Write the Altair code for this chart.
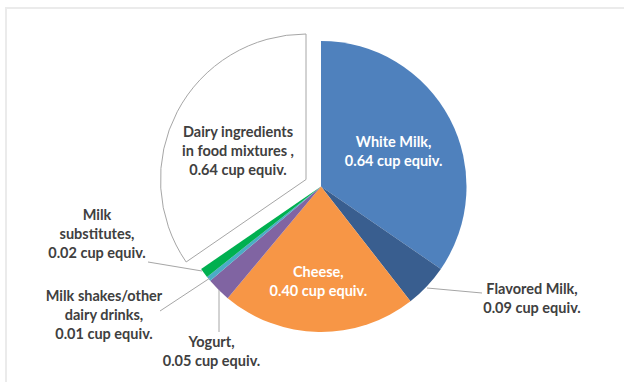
import altair as alt
import pandas as pd

# ---- data ----
categories = ["White Milk", "Flavored Milk", "Cheese", "Yogurt",
              "Milk shakes/other dairy drinks", "Milk substitutes",
              "Dairy ingredients in food mixtures"]
values = [0.64, 0.09, 0.40, 0.05, 0.01, 0.02, 0.64]
colors = ["#4F81BD", "#395E8F", "#F79646", "#8064A2", "#4BACC6", "#00B050", "#FFFFFF"]
white_text = ["White Milk,\n0.64 cup equiv.", "", "", "", "", "", ""]
cheese_text = ["", "", "Cheese,\n0.40 cup equiv.", "", "", "", ""]
dairy_text = ["", "", "", "", "", "", "Dairy ingredients\nin food mixtures ,\n0.64 cup equiv."]

# call-out labels (annotation layout; y = first line)
callout_text = ["Flavored Milk,\n0.09 cup equiv.",
                "Yogurt,\n0.05 cup equiv.",
                "Milk shakes/other\ndairy drinks,\n0.01 cup equiv.",
                "Milk\nsubstitutes,\n0.02 cup equiv."]
callout_x = [532, 211.5, 104, 97]
callout_y = [289.5, 343, 297, 216]
leader_x = [427, 219, 210, 202]
leader_y = [288, 290, 278, 271]
leader_x2 = [482, 219, 160, 148]
leader_y2 = [293, 332, 311, 262]

FONT = "Lato"
FS = 14.5
LH = 19
CX, CY, R = 321, 186.5, 145.5
DAIRY = "Dairy ingredients in food mixtures"

df = pd.DataFrame({
    "category": categories,
    "value": values,
    "order": list(range(len(categories))),
    "white": white_text,
    "cheese": cheese_text,
    "dairy": dairy_text,
})
call_df = pd.DataFrame({"text": callout_text, "x": callout_x, "y": callout_y})
lead_df = pd.DataFrame({"x": leader_x, "y": leader_y, "x2": leader_x2, "y2": leader_y2})

base = alt.Chart(df).encode(
    theta=alt.Theta("value:Q", stack=True),
    order=alt.Order("order:Q"),
    x=alt.value(CX), y=alt.value(CY),
)

color_enc = alt.Color("category:N", scale=alt.Scale(domain=categories, range=colors), legend=None)

slices = base.mark_arc(radius=R, stroke=None).encode(
    color=color_enc,
    fillOpacity=alt.condition(f"datum.category == '{DAIRY}'", alt.value(0), alt.value(1)),
)

exploded = base.mark_arc(radius=R, stroke="#A6A6A6", strokeWidth=1, xOffset=-15, yOffset=-7).encode(
    fill=alt.value("#FFFFFF"),
    opacity=alt.condition(f"datum.category == '{DAIRY}'", alt.value(1), alt.value(0)),
)

def label(field, radius, color, **kw):
    return base.mark_text(font=FONT, fontWeight="bold", fontSize=FS, color=color,
                          lineBreak="\n", lineHeight=LH, align="center", baseline="middle",
                          radius=radius, **kw).encode(text=f"{field}:N")

white_label = label("white", 82, "white", dy=-5.5)
cheese_label = label("cheese", 98, "white", dx=-1, dy=-11)
dairy_label = label("dairy", 74, "#404040", xOffset=-15, yOffset=-7, dx=-2.5, dy=-12)

leaders = alt.Chart(lead_df).mark_rule(color="#A6A6A6", strokeWidth=1).encode(
    x=alt.X("x:Q", scale=None), y=alt.Y("y:Q", scale=None),
    x2="x2:Q", y2="y2:Q",
)

callouts = alt.Chart(call_df).mark_text(font=FONT, fontWeight="bold", fontSize=FS, color="#404040",
                                        lineBreak="\n", lineHeight=LH, align="center", baseline="middle").encode(
    x=alt.X("x:Q", scale=None), y=alt.Y("y:Q", scale=None),
    text="text:N",
)

frame = alt.Chart(df).mark_rect(fill=None, stroke="#EBEBEB", strokeWidth=2).encode(
    x=alt.value(6), y=alt.value(8), x2=alt.value(640), y2=alt.value(400),
)

chart = alt.layer(frame, slices, exploded, leaders, white_label, cheese_label, dairy_label, callouts).properties(
    width=624, height=382,
    autosize=alt.AutoSizeParams(type="none"),
    padding=0,
    background="white",
).configure_view(stroke=None)

chart.save("out.html", embed_options={"renderer": "svg", "actions": False})
